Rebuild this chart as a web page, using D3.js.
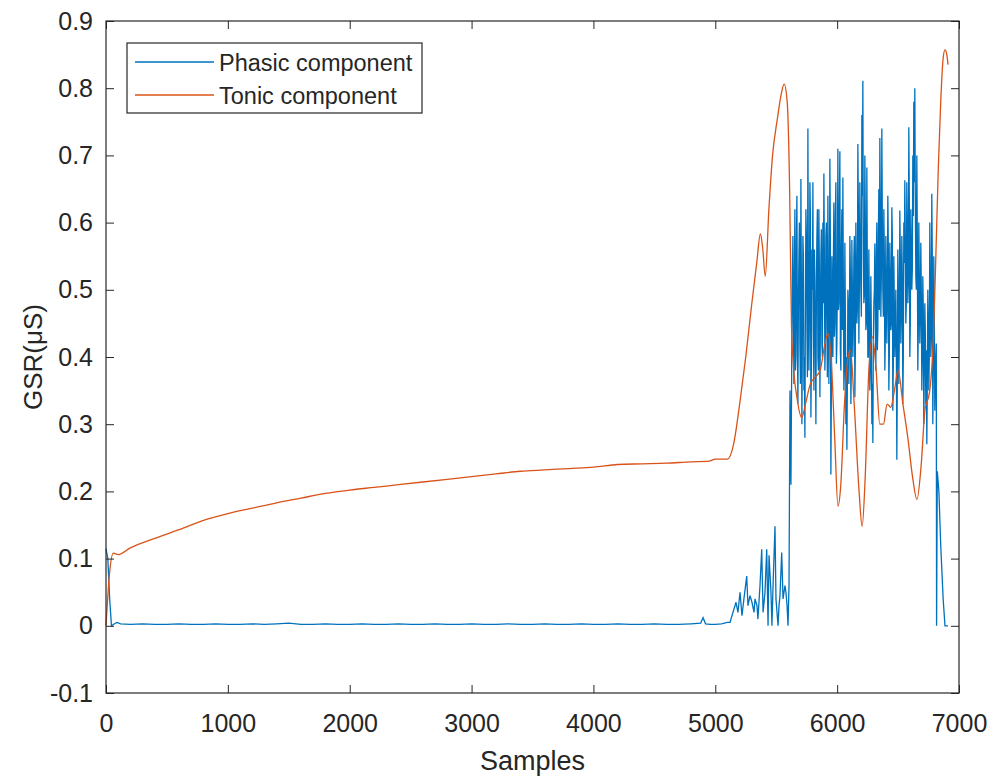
<!DOCTYPE html>
<html>
<head>
<meta charset="utf-8">
<script src="https://cdn.jsdelivr.net/npm/d3@7"></script>
<style>
  body { margin: 0; background: #fff; }
  svg { display: block; font-family: "Liberation Sans", Arial, sans-serif; }
</style>
</head>
<body>
<script>
// axis setup
const X_DOMAIN = [0, 7000];
const Y_DOMAIN = [-0.1, 0.9];
const X_TICKS = [0, 1000, 2000, 3000, 4000, 5000, 6000, 7000];
const Y_TICKS = [-0.1, 0, 0.1, 0.2, 0.3, 0.4, 0.5, 0.6, 0.7, 0.8, 0.9];
const SERIES_NAMES = ['Phasic component', 'Tonic component'];

// phasic component, [sample, value] before the busy stretch
const phasicHead = [
    [0, 0.115], [15, 0.10], [30, 0.04], [45, 0.0], [60, 0.002], [90, 0.005],
    [120, 0.003], [200, 0.002], [300, 0.003], [400, 0.002], [500, 0.002],
    [600, 0.003], [700, 0.002], [800, 0.002], [900, 0.003], [1000, 0.002],
    [1100, 0.002], [1200, 0.003], [1300, 0.002], [1400, 0.003], [1500, 0.004],
    [1600, 0.002], [1700, 0.002], [1800, 0.003], [1900, 0.002], [2000, 0.002],
    [2100, 0.003], [2200, 0.002], [2300, 0.002], [2400, 0.003], [2500, 0.002],
    [2600, 0.002], [2700, 0.003], [2800, 0.002], [2900, 0.002], [3000, 0.003],
    [3100, 0.002], [3200, 0.002], [3300, 0.003], [3400, 0.002], [3500, 0.002],
    [3600, 0.003], [3700, 0.002], [3800, 0.002], [3900, 0.003], [4000, 0.002],
    [4100, 0.002], [4200, 0.003], [4300, 0.002], [4400, 0.002], [4500, 0.003],
    [4600, 0.002], [4700, 0.002], [4800, 0.003], [4880, 0.004], [4900, 0.012],
    [4920, 0.003], [4960, 0.002], [5000, 0.002], [5050, 0.003], [5100, 0.005],
    [5121, 0.005], [5145, 0.02], [5170, 0.035], [5186, 0.02], [5203, 0.05],
    [5219, 0.015], [5235, 0.04], [5258, 0.074], [5268, 0.03], [5285, 0.045],
    [5301, 0.035], [5318, 0.02], [5326, 0.04], [5342, 0.03], [5350, 0.01],
    [5367, 0.06], [5381, 0.114], [5392, 0.02], [5408, 0.05], [5422, 0.114],
    [5433, 0.0], [5441, 0.105], [5457, 0.05], [5465, 0.0], [5474, 0.06],
    [5490, 0.148], [5498, 0.04], [5515, 0.0], [5523, 0.03], [5531, 0.045],
    [5545, 0.109], [5556, 0.04], [5572, 0.06], [5580, 0.05], [5589, 0.03],
    [5597, 0.0], [5605, 0.06], [5613, 0.35], [5621, 0.21], [5630, 0.47]
];

// phasic component, busy stretch: evenly spaced samples,
// peaks/troughs on the full step, in-between values on the half step
const phasicBusyStart = 5637;
const phasicBusyStep = 8.2;
const phasicBusy = [
    0.58, 0.36, 0.62, 0.40, 0.64, 0.33, 0.55, 0.42, 0.665, 0.30,
    0.58, 0.35, 0.28, 0.62, 0.45, 0.74, 0.38, 0.66, 0.31, 0.56,
    0.66, 0.35, 0.52, 0.30, 0.58, 0.40, 0.62, 0.34, 0.55, 0.42,
    0.60, 0.673, 0.38, 0.58, 0.45, 0.64, 0.36, 0.695, 0.225, 0.55,
    0.40, 0.63, 0.45, 0.66, 0.42, 0.71, 0.48, 0.706, 0.38, 0.62,
    0.667, 0.35, 0.57, 0.30, 0.262, 0.50, 0.36, 0.58, 0.33, 0.574,
    0.40, 0.55, 0.34, 0.60, 0.45, 0.717, 0.42, 0.66, 0.50, 0.76,
    0.811, 0.48, 0.70, 0.44, 0.682, 0.40, 0.56, 0.35, 0.52, 0.30,
    0.272, 0.48, 0.569, 0.38, 0.60, 0.44, 0.65, 0.726, 0.46, 0.74,
    0.50, 0.62, 0.38, 0.58, 0.42, 0.64, 0.35, 0.57, 0.44, 0.623,
    0.32, 0.55, 0.40, 0.50, 0.247, 0.56, 0.36, 0.618, 0.42, 0.58,
    0.33, 0.60, 0.663, 0.45, 0.66, 0.48, 0.742, 0.40, 0.62, 0.50,
    0.70, 0.78, 0.80, 0.52, 0.70, 0.38, 0.60, 0.42, 0.57, 0.35,
    0.52, 0.30, 0.48, 0.33, 0.27, 0.50, 0.35, 0.60, 0.40, 0.643,
    0.30, 0.55, 0.32, 0.40
];
const phasicBusyMid = [
    0.45, 0.52, 0.38, 0.57, 0.42, 0.48, 0.60, 0.36, 0.50, 0.44,
    0.55, 0.40, 0.47, 0.58, 0.37, 0.52, 0.46, 0.61, 0.39, 0.50,
    0.43, 0.56, 0.41, 0.49, 0.62, 0.38, 0.53, 0.45, 0.59, 0.40,
    0.48, 0.55, 0.42, 0.60, 0.37, 0.51, 0.46, 0.57, 0.35, 0.49,
    0.54, 0.43, 0.61, 0.39, 0.52, 0.47, 0.63, 0.41, 0.56, 0.44,
    0.50, 0.38, 0.46, 0.40, 0.36, 0.48, 0.42, 0.53, 0.39, 0.50,
    0.45, 0.58, 0.41, 0.52, 0.47, 0.62, 0.50, 0.57, 0.46, 0.64,
    0.55, 0.49, 0.60, 0.45, 0.53, 0.40, 0.47, 0.38, 0.44, 0.36,
    0.42, 0.50, 0.45, 0.55, 0.41, 0.58, 0.47, 0.62, 0.52, 0.60,
    0.46, 0.55, 0.43, 0.51, 0.48, 0.56, 0.40, 0.52, 0.45, 0.58,
    0.39, 0.48, 0.44, 0.42, 0.37, 0.50, 0.43, 0.55, 0.46, 0.52,
    0.40, 0.54, 0.57, 0.48, 0.59, 0.51, 0.63, 0.45, 0.56, 0.53,
    0.61, 0.66, 0.64, 0.50, 0.58, 0.44, 0.52, 0.46, 0.50, 0.40,
    0.47, 0.38, 0.44, 0.41, 0.36, 0.45, 0.40, 0.52, 0.43, 0.55,
    0.38, 0.47, 0.36, 0.42
];

// phasic component, tail after the busy stretch
const phasicTail = [
    [6816, 0.0], [6822, 0.23], [6835, 0.20], [6850, 0.12], [6870, 0.04],
    [6885, 0.0], [6910, 0.0]
];

// tonic component, [sample, value]
const tonic = [
    [0, 0.0], [30, 0.08], [60, 0.108], [100, 0.106], [200, 0.116], [400, 0.13],
    [600, 0.143], [800, 0.157], [1000, 0.167], [1200, 0.175], [1400, 0.183],
    [1600, 0.19], [1800, 0.197], [2000, 0.202], [2200, 0.206], [2400, 0.21],
    [2600, 0.214], [2800, 0.218], [3000, 0.222], [3200, 0.226], [3400, 0.23],
    [3600, 0.232], [3800, 0.234], [4000, 0.236], [4200, 0.240], [4400, 0.241],
    [4600, 0.242], [4800, 0.244], [4950, 0.245], [5000, 0.248], [5100, 0.248],
    [5150, 0.27], [5200, 0.33], [5250, 0.40], [5300, 0.48], [5340, 0.54],
    [5370, 0.583], [5390, 0.56], [5410, 0.52], [5440, 0.62], [5470, 0.70],
    [5510, 0.755], [5540, 0.79], [5565, 0.806], [5590, 0.78], [5610, 0.65],
    [5625, 0.45], [5640, 0.39], [5670, 0.34], [5710, 0.31], [5740, 0.33],
    [5780, 0.36], [5820, 0.37], [5860, 0.38], [5900, 0.42], [5925, 0.435],
    [5950, 0.40], [5980, 0.28], [6007, 0.178], [6030, 0.21], [6060, 0.33],
    [6090, 0.40], [6110, 0.41], [6140, 0.33], [6180, 0.20], [6205, 0.148],
    [6230, 0.22], [6260, 0.38], [6290, 0.43], [6320, 0.38], [6350, 0.30],
    [6380, 0.30], [6410, 0.33], [6440, 0.325], [6470, 0.35], [6500, 0.38],
    [6540, 0.33], [6580, 0.28], [6620, 0.22], [6655, 0.188], [6690, 0.24],
    [6720, 0.32], [6760, 0.35], [6790, 0.43], [6810, 0.55], [6830, 0.68],
    [6850, 0.78], [6870, 0.845], [6885, 0.857], [6900, 0.85], [6910, 0.835]
];

const COLORS = ['#0072BD', '#D95319'];
const INK = '#262626';
const FONT = '"Liberation Sans", Arial, sans-serif';

function plot(svg)
{
    const left = 106, right = 959, top = 21, bottom = 693;

    const scX = d3.scaleLinear().domain(X_DOMAIN).range([left, right]);
    const scY = d3.scaleLinear().domain(Y_DOMAIN).range([bottom, top]);

    const busy = [];
    phasicBusy.forEach((v, i) => {
        busy.push([phasicBusyStart + i * phasicBusyStep, v]);
        busy.push([phasicBusyStart + (i + 0.5) * phasicBusyStep, phasicBusyMid[i]]);
    });
    const phasic = phasicHead.concat(busy, phasicTail);

    const lineMaker = d3.line()
        .x(d => scX(d[0]))
        .y(d => scY(d[1]));

    svg.append('path')
        .attr('fill', 'none')
        .attr('stroke', COLORS[0])
        .attr('stroke-width', 1.3)
        .attr('d', lineMaker(phasic));

    svg.append('path')
        .attr('fill', 'none')
        .attr('stroke', COLORS[1])
        .attr('stroke-width', 1.3)
        .attr('d', lineMaker.curve(d3.curveMonotoneX)(tonic));

    // axes: ticks point inward, box on all sides
    function styleAxis(g)
    {
        g.select('.domain').remove();
        g.selectAll('line').attr('stroke', INK);
        g.selectAll('text')
            .attr('fill', INK)
            .style('font-size', '25px')
            .style('font-family', FONT);
    }

    svg.append('g')
        .attr('transform', `translate(0, ${bottom})`)
        .call(d3.axisBottom(scX).tickValues(X_TICKS).tickSize(-8).tickPadding(21)
            .tickFormat(d => String(d)))
        .call(styleAxis);
    svg.append('g')
        .attr('transform', `translate(0, ${top})`)
        .call(d3.axisTop(scX).tickValues(X_TICKS).tickSize(-8).tickFormat(''))
        .call(styleAxis);
    svg.append('g')
        .attr('transform', `translate(${left}, 0)`)
        .call(d3.axisLeft(scY).tickValues(Y_TICKS).tickSize(-8).tickPadding(13)
            .tickFormat(d => d === 0 ? '0' : (d < 0 ? '-' : '') + Math.abs(d).toFixed(1)))
        .call(styleAxis);
    svg.append('g')
        .attr('transform', `translate(${right}, 0)`)
        .call(d3.axisRight(scY).tickValues(Y_TICKS).tickSize(-8).tickFormat(''))
        .call(styleAxis);

    svg.append('rect')
        .attr('x', left).attr('y', top)
        .attr('width', right - left).attr('height', bottom - top)
        .attr('fill', 'none').attr('stroke', INK).attr('stroke-width', 1.2);

    // axis titles
    svg.append('text')
        .attr('x', (left + right) / 2).attr('y', 770)
        .attr('text-anchor', 'middle')
        .attr('fill', INK).style('font-size', '27px')
        .text('Samples');
    svg.append('text')
        .attr('transform', `translate(42, ${(top + bottom) / 2}) rotate(-90)`)
        .attr('text-anchor', 'middle')
        .attr('fill', INK).style('font-size', '26px')
        .text('GSR(μS)');

    // legend
    const lg = svg.append('g');
    lg.append('rect')
        .attr('x', 127).attr('y', 43).attr('width', 295).attr('height', 70)
        .attr('fill', '#fff').attr('stroke', INK).attr('stroke-width', 1.2);
    const rows = lg.selectAll('g.row').data(SERIES_NAMES).enter().append('g')
        .attr('class', 'row')
        .attr('transform', (d, i) => `translate(0, ${62 + i * 33})`);
    rows.append('line')
        .attr('x1', 135).attr('x2', 214).attr('y1', 0).attr('y2', 0)
        .attr('stroke', (d, i) => COLORS[i]).attr('stroke-width', 1.3);
    rows.append('text')
        .attr('x', 219).attr('y', 9)
        .attr('fill', INK).style('font-size', '23.5px')
        .text(d => d);
}

function main()
{
    const svg = d3.select('body')
        .append('svg')
        .attr('width', 993)
        .attr('height', 778);
    plot(svg);
}

main();
</script>
</body>
</html>
